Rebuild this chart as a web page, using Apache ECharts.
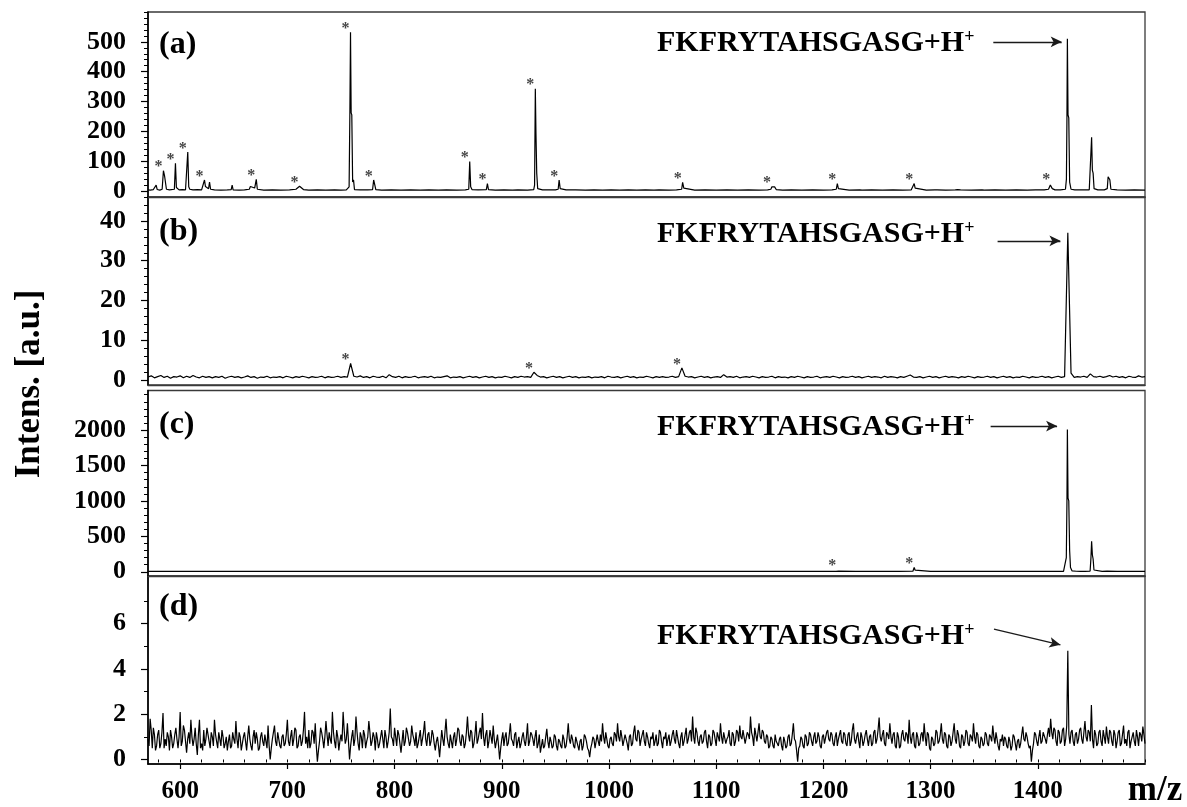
<!DOCTYPE html>
<html>
<head>
<meta charset="utf-8">
<title>MALDI-TOF spectra</title>
<script src="https://cdn.jsdelivr.net/npm/echarts@6/dist/echarts.min.js"></script>
<style>
  html, body { margin: 0; padding: 0; background: #fff; }
  #chart { width: 1187px; height: 807px; }
</style>
</head>
<body>
<div id="chart"></div>
<script>
// ---- shared m/z axis ----
const MZ_MIN = 570;
const MZ_MAX = 1500;
const mzLabels = [600, 700, 800, 900, 1000, 1100, 1200, 1300, 1400];

// ---- spectrum (a): [m/z, intensity] profile points ----
const spectrumA = [
  [570,4],[572,3],[575,5],[576.6,8],[577.6,20],[578.6,5],[581,3],[583.2,6],[584.4,68],[585.4,52],[586.3,50],[587.2,6],
  [590,4],[594.6,6],[595.6,93],[596.5,12],[599,4],[602,5],[605,4],[606.2,8],[607.1,131],[608,14],[609,6],[612,4],[616,5],
  [620,4],[621.8,6],[622.7,37],[623.6,15],[625,9],[626.5,8],[627.4,30],[628.4,6],[632,4],[638,3],[644,4],[647.6,5],
  [648.5,20],[649.4,4],[655,3],[660,4],[664.5,6],[665.5,15],[667,12],[669.5,10],[671,39],[672,6],[678,3],[686,4],[694,3],
  [702,4],[708,6],[709.5,12],[711.4,16],[713,10],[715,5],[720,3],[728,4],[736,3],[744,4],[750,3],[755,4],
  [757.6,14],[758.3,260],[758.9,532],[759.5,262],[760.1,255],[760.9,30],[761.7,38],[762.6,5],[768,4],[775,4],
  [779.5,5],[780.5,37],[781.6,20],[782.5,5],[788,3],[796.8,4],[797.6,10],[798.6,4],[806,3],[815,4],[824,3],[832,4],
  [841,3],[848.4,4],[849.3,10],[850.2,4],[858,3],[866,4],[869.2,6],[870.1,99],[871,14],[872.2,5],[878,4],[885.6,5],
  [886.6,25],[887.6,5],[894,3],[902,4],[910,3],[915,4],[915.9,10],[916.8,4],[924,3],[929.8,5],[930.6,20],[931.3,343],
  [931.9,190],[932.6,60],[933.5,8],[938,4],[943.3,4],[944.2,10],[945.1,4],[950,4],[952.6,6],[953.5,37],[954.5,8],[960,4],
  [968.8,4],[969.7,10],[970.6,4],[978,3],[986,4],[994,3],[1002,4],[1010,3],[1018,4],[1026,3],[1034,4],[1042,3],
  [1046.6,4],[1047.5,8],[1048.4,4],[1056,3],[1063,4],[1067.8,6],[1068.7,29],[1069.8,10],[1071,4],[1080,3],[1089.6,4],
  [1090.5,8],[1091.4,4],[1100,3],[1110,4],[1120,3],[1130,4],[1140,3],[1148,4],[1151,6],[1152,14],[1153,9],[1154.5,14],
  [1156,5],[1162,3],[1170,4],[1180,3],[1190,4],[1200,3],[1208,4],[1212,6],[1213,25],[1214,8],[1215.5,4],[1224,3],
  [1234,4],[1235,6],[1236,3],[1245,4],[1255,3],[1265,4],[1274,3],[1282,4],[1283.8,8],[1284.7,25],[1285.6,10],[1287,4],
  [1296,3],[1304,4],[1305,8],[1306,4],[1314,3],[1323,4],[1324,8],[1325.2,5],[1326.5,8],[1328,4],[1338,3],[1348,4],
  [1349,6],[1350,3],[1360,4],[1370,3],[1380,4],[1390,3],[1398,4],[1406,4],[1410,6],[1411.7,20],[1412.6,25],[1413.5,8],
  [1416,4],[1421,4],[1425.8,6],[1426.7,40],[1427.2,250],[1427.6,510],[1428.2,255],[1428.9,245],[1429.7,30],[1431,6],
  [1434.5,4],[1435.3,8],[1436.2,4],[1442,4],[1448,4],[1449.4,10],[1450.2,180],[1450.9,70],[1451.6,60],[1452.5,8],
  [1456,4],[1462,4],[1464.8,8],[1465.6,48],[1466.4,42],[1467.2,38],[1468.2,6],[1474,4],[1482,3],[1490,4],[1500,3]
];
const markedA = [584.4, 595.6, 607.1, 622.7, 671, 711.4, 758.9, 780.5, 870.1, 886.6, 931.3, 953.5, 1068.7, 1152, 1213, 1284.7, 1412.6];

// ---- spectrum (b): intensities sampled every 3 m/z from 570 ----
const sampleStartB = 570, sampleStepB = 3;
const intensityB = [
  0.8,1.1,0.6,0.9,1.2,0.7,1.0,0.5,0.9,0.8,1.1,0.6,1.0,0.7,1.2,0.8,0.6,1.0,0.7,0.9,   // 570–627
  0.6,0.9,0.7,1.0,0.5,0.8,1.0,0.7,0.9,0.6,0.8,1.1,0.7,0.9,0.5,0.8,0.7,1.0,0.6,0.8,   // 630–687
  0.7,0.9,0.6,1.0,0.8,0.6,0.9,0.7,1.0,0.8,0.6,0.9,0.7,0.8,1.0,0.6,0.9,0.7,0.8,1.0,   // 690–747
  0.7,0.9,0.8,4.2,1.0,0.8,1.1,0.7,0.9,0.6,1.0,0.8,0.7,1.0,0.6,1.4,0.9,0.7,1.0,0.6,   // 750–807
  0.9,0.7,0.8,1.0,0.6,0.8,0.9,0.7,1.0,0.6,0.8,0.7,0.9,1.1,0.6,0.8,0.7,0.9,0.6,0.8,   // 810–867
  1.0,0.7,0.9,0.6,0.8,1.0,0.7,0.9,0.6,0.8,0.7,1.0,0.8,0.6,0.9,0.7,1.0,0.8,0.9,0.7,   // 870–927
  2.0,1.2,0.8,0.9,0.6,0.8,1.0,0.7,0.9,0.6,0.8,1.0,0.7,0.9,0.6,0.8,0.7,0.9,0.6,0.8,   // 930–987
  0.7,0.9,0.6,1.0,0.8,0.7,0.9,0.6,0.8,1.0,0.7,0.9,0.6,0.8,0.7,1.0,0.8,0.6,0.9,0.7,   // 990–1047
  0.9,0.7,0.8,1.0,0.7,0.9,3.1,1.0,0.8,0.9,0.6,0.8,1.0,0.7,0.9,0.6,0.8,0.9,0.7,1.4,   // 1050–1107
  0.8,0.9,0.7,1.0,0.6,0.8,0.9,0.7,1.0,0.8,0.6,0.9,0.7,0.8,1.0,0.6,0.9,0.7,0.8,0.6,   // 1110–1167
  0.9,0.7,1.0,0.8,0.6,0.9,0.7,0.8,1.0,0.6,0.8,0.9,0.7,1.0,0.8,0.6,0.9,0.7,0.8,1.0,   // 1170–1227
  0.7,0.9,0.6,0.8,1.0,0.7,0.9,0.8,0.6,1.0,0.7,0.9,0.8,0.6,0.9,0.7,1.0,1.3,0.8,0.7,   // 1230–1287
  0.9,0.6,0.8,1.0,0.7,0.9,0.6,0.8,1.0,0.7,0.9,0.8,0.6,0.9,0.7,1.0,0.8,0.6,0.9,0.7,   // 1290–1347
  0.8,1.0,0.7,0.9,0.6,0.8,1.0,0.7,0.9,0.6,0.8,0.7,1.0,0.8,0.6,0.9,0.7,0.8,1.0,0.7,   // 1350–1407
  0.9,0.6,0.8,1.0,0.7,0.9,37,1.8,0.7,0.9,0.8,1.0,0.7,1.6,0.9,0.8,1.0,0.7,0.9,1.2,    // 1410–1467
  0.8,1.0,0.7,0.9,0.6,1.0,0.8,0.7,1.1,0.8,0.9                                        // 1470–1500
];
const markedB = [759, 930, 1068];

// ---- spectrum (c): [m/z, intensity] profile points ----
const spectrumC = [
  [570,6],[590,5],[600,6],[620,5],[640,6],[660,5],[680,6],[700,5],[720,6],[740,5],[758,6],[759,14],[760,6],[780,5],
  [800,6],[820,5],[840,6],[860,5],[880,6],[900,5],[920,6],[930,6],[931.5,14],[933,6],[950,5],[970,6],[990,5],[1010,6],
  [1030,5],[1050,6],[1067.5,6],[1068.7,12],[1070,6],[1090,5],[1110,6],[1130,5],[1150,6],[1170,5],[1182.5,6],[1183.6,16],
  [1184.7,6],[1200,5],[1211.8,6],[1213,32],[1214.2,8],[1230,5],[1250,6],[1270,5],[1283.5,8],[1284.7,60],[1285.6,22],
  [1287,6],[1300,5],[1312,6],[1313,14],[1314,6],[1325.5,6],[1326.7,24],[1328,6],[1340,5],[1350,6],[1351,12],[1352,6],
  [1370,5],[1390,6],[1410.5,6],[1411.7,16],[1413,6],[1424,6],[1425.8,20],[1426.6,200],[1427.2,1000],[1427.6,2010],
  [1428.2,1040],[1428.9,1000],[1429.7,300],[1430.5,60],[1432,12],[1436,7],[1440,6],[1444,6],[1448.8,10],[1449.6,200],
  [1450.2,430],[1450.9,240],[1451.6,180],[1452.4,25],[1454,8],[1460,6],[1464.6,8],[1465.4,30],[1466.2,8],[1474,6],
  [1484.2,6],[1485,24],[1485.8,6],[1492,5],[1500,6]
];
const markedC = [1213, 1284.7];

// ---- spectrum (d): intensities at even m/z (570, 572, …, 1500) ----
const intensityDEven = [
  0.9,1.8,0.5,1.1,0.6,1.3,0.7,2.05,0.9,1.2,0.4,1.0,0.7,1.4,0.5,2.1,0.8,1.3,0.3,1.2,1.75,0.6,1.4,0.2,1.75,   // 570–618
  0.7,1.3,0.9,1.1,0.5,1.0,1.75,0.8,1.2,0.6,1.0,0.7,0.4,1.1,0.6,0.9,1.7,0.5,1.0,0.7,1.2,0.4,1.5,0.6,1.0,    // 620–668
  0.7,0.9,0.5,1.2,0.6,0.8,1.5,0.0,0.9,1.5,0.6,0.9,0.5,1.1,0.7,1.75,0.6,1.3,0.9,1.3,0.6,1.1,0.8,2.1,1.0,    // 670–718
  1.3,0.7,1.2,1.6,-0.1,0.8,1.2,0.5,1.7,0.6,0.9,2.1,0.8,1.3,0.4,1.1,2.1,0.7,1.6,0.0,1.0,0.6,1.9,0.7,1.2,    // 720–768
  0.5,1.1,0.8,1.7,0.6,1.2,0.4,0.9,0.7,1.3,0.5,1.0,0.8,2.25,0.9,1.4,0.6,1.1,0.3,1.3,0.8,1.2,0.6,1.5,0.9,    // 770–818
  1.2,0.7,1.3,0.9,1.7,0.6,1.2,0.8,1.1,0.4,1.0,0.1,1.3,0.6,1.8,0.7,1.1,0.5,1.2,0.9,1.3,0.6,1.0,0.7,1.9,     // 820–868
  0.8,1.2,0.7,1.7,0.9,1.4,2.05,0.6,1.3,0.8,1.0,1.5,0.5,1.1,0.0,0.9,0.6,1.2,0.7,1.6,0.8,1.1,0.5,1.0,0.7,    // 870–918
  1.2,0.6,1.6,0.8,1.1,0.6,1.3,0.7,0.3,0.9,0.6,1.35,0.5,0.8,0.6,1.0,0.4,0.8,0.5,0.9,0.6,1.6,0.7,0.9,0.5,    // 920–968
  0.8,0.4,0.9,0.6,1.0,0.5,0.1,0.7,0.9,0.5,0.8,1.1,1.6,0.7,0.9,0.5,1.0,0.6,1.1,1.6,0.8,1.0,0.6,0.9,0.4,     // 970–1018
  1.1,0.7,1.5,0.8,1.2,0.9,1.3,0.6,1.0,0.5,0.9,0.6,1.1,0.7,1.2,0.5,0.9,0.6,1.1,0.8,1.3,0.7,1.0,0.5,1.2,     // 1020–1068
  0.8,1.4,0.9,1.3,1.9,0.7,1.2,0.6,1.1,0.8,1.3,0.5,1.0,0.7,1.2,0.6,1.0,1.6,0.7,1.2,0.9,1.3,0.6,1.1,0.8,     // 1070–1118
  1.2,1.5,0.9,1.3,0.7,1.1,1.9,1.0,1.4,0.8,1.6,0.9,1.2,0.7,1.0,0.6,0.9,0.5,0.8,0.6,1.0,0.4,0.8,0.6,1.1,     // 1120–1168
  0.7,1.6,0.8,-0.1,0.6,0.9,0.5,1.0,0.7,1.1,0.6,1.2,0.8,1.0,0.5,1.1,0.7,1.3,0.8,1.1,0.6,1.2,0.9,1.3,0.7,    // 1170–1218
  1.1,0.6,1.2,0.8,1.6,0.7,1.2,0.5,1.0,0.8,1.3,0.6,1.1,0.7,1.3,0.9,1.85,0.8,1.3,0.6,1.1,1.6,0.7,1.2,0.5,    // 1220–1268
  1.0,0.6,1.3,0.8,1.1,1.75,0.7,1.2,0.5,1.0,0.7,1.2,1.6,0.6,1.1,0.4,0.9,0.7,1.2,0.8,1.6,0.7,1.1,0.5,1.0,    // 1270–1318
  0.8,1.6,0.7,1.1,0.5,1.0,0.8,1.2,0.6,1.0,1.6,0.7,1.1,0.5,0.9,0.7,1.1,0.6,1.0,1.5,0.7,0.9,0.4,0.8,0.6,     // 1320–1368
  0.9,0.5,0.8,0.6,1.0,0.4,0.9,0.7,1.45,0.8,1.0,0.5,-0.1,0.7,1.1,0.6,1.3,0.8,1.2,0.7,1.4,1.8,0.9,1.3,0.6,   // 1370–1418
  1.2,0.8,1.4,0.9,4.8,0.7,1.3,0.6,1.2,0.9,1.4,0.7,1.7,0.8,1.2,2.4,0.5,1.1,0.7,1.3,0.6,1.0,1.45,0.7,1.2,    // 1420–1468
  0.6,1.1,0.8,1.3,0.7,1.5,0.9,1.2,0.5,1.0,0.8,1.3,0.6,1.1,1.45,0.7                                         // 1470–1500
];
// ---- spectrum (d): intensities at odd m/z (571, 573, …, 1499) ----
const intensityDOdd = [
  0.6,1.3,1.4,0.4,1.1,0.5,1.2,0.5,0.6,1.0,1.3,0.5,1.1,0.9,1.0,0.6,1.5,0.8,0.9,0.7,1.0,0.9,0.7,1.1,0.5,   // 571–619
  0.4,0.6,1.4,0.8,1.2,0.6,1.1,0.5,0.9,1.3,0.5,1.0,0.8,0.5,1.2,0.7,0.9,1.2,0.4,1.0,0.8,1.0,0.9,0.4,1.3,   // 621–669
  1.2,0.4,1.0,0.8,1.1,0.5,0.6,0.5,1.2,0.8,1.2,0.6,1.0,0.6,1.1,0.8,1.0,0.6,1.4,0.5,1.0,0.6,1.3,0.7,0.5,   // 671–719
  0.5,1.3,0.7,0.6,0.4,1.4,0.9,1.0,1.1,1.2,0.7,1.2,0.5,1.0,0.8,0.8,1.3,0.9,0.8,0.6,1.3,0.9,1.2,0.4,1.0,   // 721–769
  1.3,0.5,1.0,1.2,0.8,1.0,1.2,0.5,1.0,0.9,1.3,0.5,1.2,1.0,0.6,1.0,1.3,0.7,0.8,0.6,1.4,0.9,0.8,1.1,0.6,   // 771–819
  0.5,1.0,0.6,1.2,0.9,1.1,0.6,1.3,0.7,0.8,0.6,0.7,0.9,1.2,1.0,0.5,0.8,1.0,0.6,1.4,0.8,1.1,0.5,1.2,1.1,   // 821–869
  1.3,0.5,1.1,0.7,1.2,0.9,1.0,1.1,0.5,1.3,0.7,0.9,0.8,0.6,0.5,1.2,1.0,0.6,1.1,0.9,0.6,1.2,0.8,0.5,1.0,   // 871–919
  0.8,1.0,0.6,1.2,0.9,1.0,0.5,1.1,0.6,0.5,1.0,0.8,1.0,0.5,1.1,0.6,0.9,0.6,1.1,0.5,1.0,0.9,1.1,0.6,1.0,   // 921–969
  0.6,0.8,0.4,1.1,0.8,0.4,0.5,1.0,0.5,1.1,0.6,0.8,1.0,1.2,0.6,0.9,0.7,1.2,0.8,1.0,1.3,0.6,1.1,0.7,1.0,   // 971–1019
  0.6,1.2,0.9,1.3,0.6,1.1,0.8,1.2,0.7,1.0,1.2,0.8,0.6,1.3,0.8,1.0,1.2,0.9,0.6,1.1,0.9,1.3,0.7,1.0,0.6,   // 1021–1069
  1.1,0.7,1.2,0.8,1.0,1.4,0.8,1.0,0.7,1.2,0.8,1.1,0.6,1.3,0.9,1.2,0.8,1.0,1.2,0.7,1.0,0.7,1.2,0.6,1.3,   // 1071–1119
  0.8,1.0,1.3,0.7,1.2,0.9,1.2,0.6,1.1,1.2,1.0,1.3,0.8,1.1,0.5,1.0,0.6,1.1,0.7,0.9,0.6,1.0,0.5,1.0,0.6,   // 1121–1169
  1.1,0.9,0.4,0.5,1.0,0.6,1.1,0.6,1.2,0.8,1.0,0.7,1.2,0.6,1.0,0.7,1.2,0.9,1.2,0.7,1.0,0.6,1.1,0.8,1.2,   // 1171–1219
  0.7,1.1,0.6,1.3,0.9,1.0,0.8,1.2,0.6,1.1,0.9,1.0,0.6,1.2,0.7,1.3,1.0,1.1,0.7,1.2,0.9,1.0,1.1,0.6,1.2,   // 1221–1269
  0.5,1.1,0.9,1.2,0.7,1.0,1.1,0.6,1.2,0.6,1.1,0.8,1.0,1.2,0.5,1.0,0.6,1.3,0.7,1.1,0.9,1.2,0.6,1.1,0.6,   // 1271–1319
  1.2,0.9,1.3,0.6,1.1,0.6,1.3,0.7,1.1,0.8,1.0,1.2,0.6,1.0,0.6,1.2,0.7,1.1,0.8,1.0,1.2,0.6,0.9,1.1,1.0,   // 1321–1369
  0.6,1.0,0.4,1.1,0.7,0.8,0.5,1.1,0.9,1.2,0.7,0.6,0.4,1.2,0.8,1.0,0.7,1.2,0.9,1.1,1.0,1.2,1.4,0.8,1.3,   // 1371–1419
  0.7,1.3,0.6,1.5,1.1,1.2,0.8,1.1,0.7,1.3,0.9,1.2,1.0,1.3,0.8,0.9,1.3,0.6,1.2,0.8,1.3,0.7,1.0,1.3,0.8,   // 1421–1469
  1.3,0.5,1.2,0.6,1.1,0.7,0.6,1.3,0.8,1.2,0.6,1.0,1.2,0.8,1.1                                           // 1471–1499
];

// ---- y-axis ranges and tick values per panel ----
const yRangeA = [-20, 600], yLabelsA = [0, 100, 200, 300, 400, 500];
const yRangeB = [-1.2, 46], yLabelsB = [0, 10, 20, 30, 40];
const yRangeC = [-60, 2560], yLabelsC = [0, 500, 1000, 1500, 2000];
const yRangeD = [-0.2, 8.1], yLabelsD = [0, 2, 4, 6];

// ---- annotation arrows, in data coordinates [m/z, intensity] ----
const arrowA = [[1358.5, 500], [1422.3, 500]];
const arrowB = [[1362.5, 35], [1421.1, 35]];
const arrowC = [[1356, 2058], [1418, 2058]];
const arrowD = [[1359.1, 5.75], [1421.1, 5.06]];

const PEPTIDE = 'FKFRYTAHSGASG+H';

// ---- helpers ----
const steps = (from, to, step) => {
  const out = [];
  for (let v = from; v <= to + 1e-9; v += step) out.push(+v.toFixed(4));
  return out;
};
const sampled = (start, step, values) => values.map((v, i) => [start + i * step, v]);
const apexNear = (points, mz) => {
  let best = null;
  for (const p of points) {
    if (Math.abs(p[0] - mz) <= 1.6 && (!best || p[1] > best[1])) best = p;
  }
  return best;
};
const plainNumber = v => String(v);

const spectrumB = sampled(sampleStartB, sampleStepB, intensityB);
const spectrumD = sampled(570, 2, intensityDEven)
  .concat(sampled(571, 2, intensityDOdd))
  .sort((p, q) => p[0] - q[0]);

const FONT = "'Liberation Serif', 'Times New Roman', serif";

// grid geometry (px)
const GRID_LEFT = 148, GRID_RIGHT = 42;
const gridBoxes = [
  { top: 12, height: 185 },
  { top: 197, height: 188 },
  { top: 390.5, height: 185.5 },
  { top: 576, height: 188 }
];

const panels = [
  { tag: '(a)', data: spectrumA, range: yRangeA, labels: yLabelsA, minors: steps(0, 600, 20), marked: markedA, arrow: arrowA, tagY: 45, textY: 43, lineWidth: 1.2 },
  { tag: '(b)', data: spectrumB, range: yRangeB, labels: yLabelsB, minors: steps(0, 46, 2), marked: markedB, arrow: arrowB, tagY: 232, textY: 234, lineWidth: 1.2 },
  { tag: '(c)', data: spectrumC, range: yRangeC, labels: yLabelsC, minors: steps(0, 2500, 100), marked: markedC, arrow: arrowC, tagY: 425, textY: 427, lineWidth: 1.2 },
  { tag: '(d)', data: spectrumD, range: yRangeD, labels: yLabelsD, minors: steps(0, 7, 1), marked: [], arrow: arrowD, tagY: 607, textY: 636, lineWidth: 1.2 }
];

const grid = [], xAxis = [], yAxis = [], series = [], graphic = [];

panels.forEach((p, i) => {
  const isBottom = i === panels.length - 1;
  grid.push({
    left: GRID_LEFT, right: GRID_RIGHT, top: gridBoxes[i].top, height: gridBoxes[i].height,
    show: true, borderColor: '#3a3a3a', borderWidth: 1.3, backgroundColor: 'transparent',
    outerBoundsMode: 'none'
  });

  // main x axis
  xAxis.push({
    type: 'value', gridIndex: i, min: MZ_MIN, max: MZ_MAX, position: 'bottom',
    axisLine: { show: true, onZero: false, lineStyle: { color: isBottom ? '#000' : '#3a3a3a', width: isBottom ? 1.6 : 1.3 } },
    axisTick: { show: isBottom, customValues: mzLabels, length: 5, inside: false, lineStyle: { color: '#000', width: 1.2 } },
    axisLabel: {
      show: isBottom, customValues: mzLabels, margin: 15, formatter: plainNumber,
      fontFamily: FONT, fontWeight: 'bold', fontSize: 25, color: '#000'
    },
    splitLine: { show: false }
  });
  // minor x ticks
  xAxis.push({
    type: 'value', gridIndex: i, min: MZ_MIN, max: MZ_MAX, position: 'bottom', offset: 0,
    axisLine: { show: false },
    axisTick: { show: isBottom, customValues: steps(580, 1500, 20), length: 3, lineStyle: { color: '#000', width: 1 } },
    axisLabel: { show: false },
    splitLine: { show: false }
  });

  // main y axis
  yAxis.push({
    type: 'value', gridIndex: i, min: p.range[0], max: p.range[1], position: 'left',
    axisLine: { show: true, onZero: false, lineStyle: { color: '#000', width: 1.6 } },
    axisTick: { show: true, customValues: p.labels, length: 7, lineStyle: { color: '#000', width: 1.2 } },
    axisLabel: {
      show: true, customValues: p.labels, margin: 22, formatter: plainNumber,
      fontFamily: FONT, fontWeight: 'bold', fontSize: 26, color: '#000'
    },
    splitLine: { show: false }
  });
  // minor y ticks
  yAxis.push({
    type: 'value', gridIndex: i, min: p.range[0], max: p.range[1], position: 'left', offset: 0,
    axisLine: { show: false },
    axisTick: { show: true, customValues: p.minors, length: 4, lineStyle: { color: '#000', width: 1 } },
    axisLabel: { show: false },
    splitLine: { show: false }
  });

  series.push({
    type: 'line', xAxisIndex: 2 * i, yAxisIndex: 2 * i,
    data: p.data, showSymbol: false, symbol: 'none', silent: true, animation: false,
    lineStyle: { color: '#000', width: p.lineWidth },
    z: 3,
    markLine: {
      silent: true, animation: false, symbol: ['none', 'arrow'], symbolSize: [8, 11],
      label: { show: false },
      lineStyle: { color: '#1a1a1a', width: 1.3, type: 'solid' },
      data: [[{ coord: p.arrow[0] }, { coord: p.arrow[1] }]]
    }
  });

  if (p.marked.length) {
    series.push({
      type: 'scatter', xAxisIndex: 2 * i, yAxisIndex: 2 * i, silent: true, animation: false,
      data: p.marked.map(mz => apexNear(p.data, mz)).filter(Boolean),
      symbol: 'circle', symbolSize: 1, itemStyle: { color: 'rgba(0,0,0,0)' },
      label: {
        show: true, formatter: '*', position: 'top', distance: 0, offset: [-5, 5],
        fontFamily: FONT, fontWeight: 'bold', fontSize: 16, color: '#111'
      },
      z: 4
    });
  }

  graphic.push({
    type: 'text', x: 159, y: p.tagY, silent: true,
    style: {
      text: p.tag, fill: '#000', font: 'bold 32px ' + FONT,
      align: 'left', verticalAlign: 'middle', textAlign: 'left', textVerticalAlign: 'middle'
    }
  });
  graphic.push({
    type: 'text', x: 657, y: p.textY, silent: true,
    style: {
      text: '{m|' + PEPTIDE + '}{s|+}', fill: '#000',
      align: 'left', verticalAlign: 'middle', textAlign: 'left', textVerticalAlign: 'middle',
      rich: {
        m: { font: 'bold 30px ' + FONT, fill: '#000' },
        s: { font: 'bold 18px ' + FONT, fill: '#000', verticalAlign: 'top' }
      }
    }
  });
});

graphic.push({
  type: 'text', x: 30, y: 384, rotation: Math.PI / 2, silent: true,
  style: {
    text: 'Intens. [a.u.]', fill: '#000', font: 'bold 35px ' + FONT,
    align: 'center', verticalAlign: 'middle', textAlign: 'center', textVerticalAlign: 'middle'
  }
});
graphic.push({
  type: 'text', x: 1155, y: 791, silent: true,
  style: {
    text: 'm/z', fill: '#000', font: 'bold 35px ' + FONT,
    align: 'center', verticalAlign: 'middle', textAlign: 'center', textVerticalAlign: 'middle'
  }
});

const chart = echarts.init(document.getElementById('chart'), null, { renderer: 'canvas' });
chart.setOption({
  animation: false,
  backgroundColor: '#fff',
  grid, xAxis, yAxis, series, graphic
});
</script>
</body>
</html>
